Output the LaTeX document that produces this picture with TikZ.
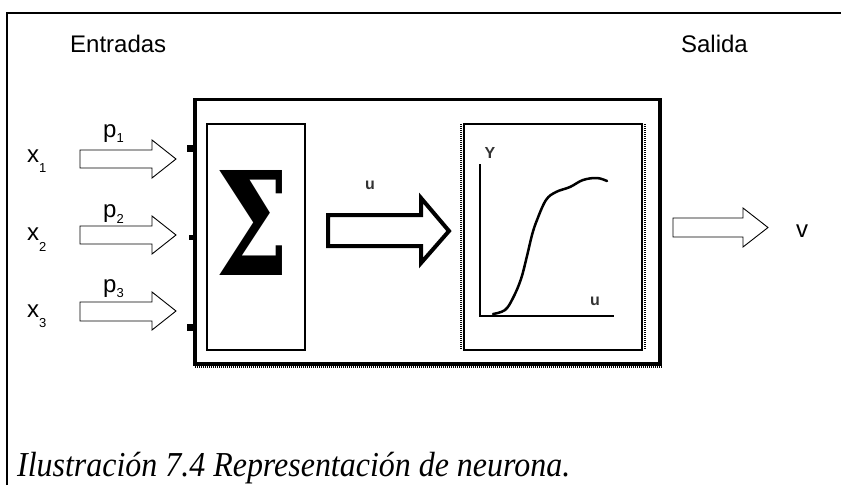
\documentclass[tikz,border=0pt]{standalone}
\usepackage{fontspec}
\usepackage{graphicx}
\setmainfont{Liberation Sans}
\newfontfamily\capfont{Liberation Serif}
\newfontfamily\sigfont{DejaVu Serif}
\newcommand{\lblsz}{\fontsize{24}{28}\selectfont}
\newcommand{\subsz}{\fontsize{13}{15}\selectfont}
\begin{document}
\begin{tikzpicture}[x=1pt,y=-1pt,
  lbl/.style={inner sep=0pt,anchor=base west,font=\lblsz},
  tiny/.style={inner sep=0pt,font=\fontsize{16}{18}\selectfont\bfseries,text=black!80},
  thinarrow/.style={draw=black,line width=0.9pt,fill=white,line join=miter},
  fatarrow/.style={draw=black,line width=4pt,fill=white,line join=miter,miter limit=10},
  boxline/.style={draw=black,line width=2pt},
  fringe/.style={draw=black,line width=2pt,dash pattern=on 1pt off 1pt},
]
\useasboundingbox (0,0) rectangle (841,485);
% outer frame
\draw[line width=1.5pt] (7,485) -- (7,13) -- (841,13);
% titles
\node[lbl] (entr) at (70,52) {Entradas};
\node[lbl,anchor=base east] (sal) at (748,52) {Salida};
% main box
\draw[line width=3.5pt] (195,99.5) rectangle (660,364);
\draw[fringe] (195,367) -- (662,367);
% input tabs
\fill (187,145) rectangle (195,152);
\fill (189,235) rectangle (195,240);
\fill (187,324) rectangle (195,331);
% sigma box
\draw[boxline] (207,124) rectangle (305,350);
\node[inner sep=0pt] (sigma) at (252,222.5) {\resizebox{74pt}{105pt}{\sigfont\bfseries Σ}};
% middle arrow
\draw[fatarrow] (328,215) -- (421,215) -- (421,198) -- (449,231) -- (421,263) -- (421,246) -- (328,246) -- cycle;
\node[tiny] (ulab) at (370,185) {u};
% graph box
\draw[boxline] (464,124) rectangle (642,350);
\draw[fringe] (461,124) -- (461,350);
\draw[fringe] (645,124) -- (645,350);
% axes
\draw[line width=1.5pt] (480,164) -- (480,316) -- (614,316);
\node[tiny] (ylab) at (490,153) {Y};
\node[tiny] (xlab) at (595,301) {u};
% sigmoid
\draw[line width=2.5pt,line cap=round] plot[smooth,tension=0.6] coordinates {(493,314) (505,310) (513,298) (521,279) (527,256) (532,235) (537,220) (546,200) (556,192) (570,187) (583,180) (597,178) (607,181)};
% input arrows
\draw[thinarrow] (80,150) -- (152,150) -- (152,140) -- (176,159) -- (152,178) -- (152,168) -- (80,168) -- cycle;
\draw[thinarrow] (80,226) -- (152,226) -- (152,216) -- (176,235) -- (152,254) -- (152,244) -- (80,244) -- cycle;
\draw[thinarrow] (80,302) -- (152,302) -- (152,292) -- (176,311) -- (152,330) -- (152,321) -- (80,321) -- cycle;
% input labels
\node[lbl] (x1) at (27,162) {x\raisebox{-10pt}{\subsz 1}};
\node[lbl] (x2) at (27,240) {x\raisebox{-11pt}{\subsz 2}};
\node[lbl] (x3) at (27,317) {x\raisebox{-10pt}{\subsz 3}};
\node[lbl] (p1) at (103,137) {p\raisebox{-5pt}{\subsz 1}};
\node[lbl] (p2) at (103,217) {p\raisebox{-6pt}{\subsz 2}};
\node[lbl] (p3) at (103,292) {p\raisebox{-5pt}{\subsz 3}};
% output arrow
\draw[thinarrow] (673,218) -- (743,218) -- (743,208) -- (768,227.5) -- (743,247) -- (743,237) -- (673,237) -- cycle;
\node[lbl,anchor=base] (v) at (802,237) {v};
% caption
\node[inner sep=0pt,anchor=base west] (cap) at (17,476) {\resizebox{553pt}{\height}{\fontsize{35}{40}\selectfont\capfont\itshape Ilustración 7.4 Representación de neurona.}};
\end{tikzpicture}
\end{document}
